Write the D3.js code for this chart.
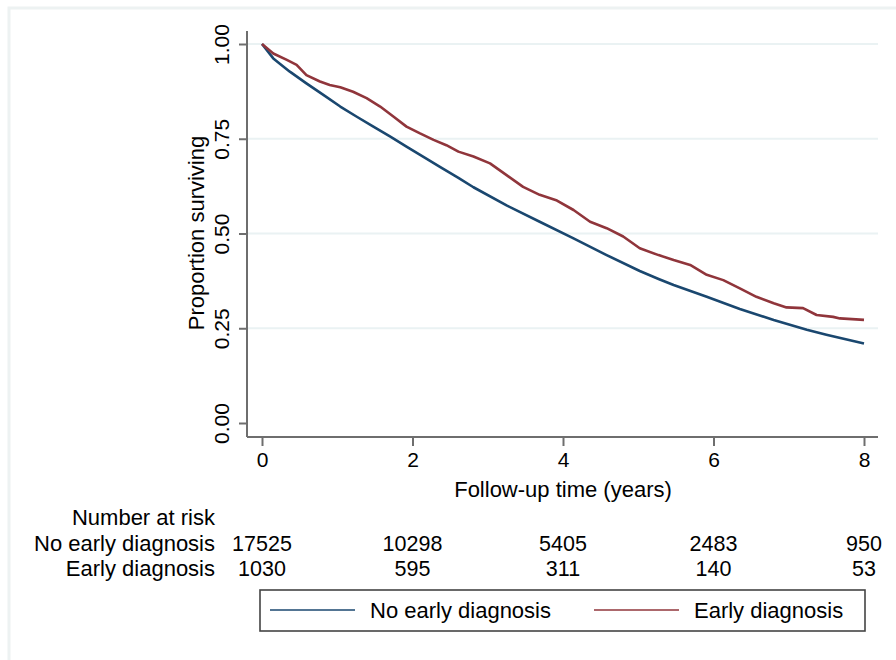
<!DOCTYPE html>
<html>
<head>
<meta charset="utf-8">
<script src="https://cdn.jsdelivr.net/npm/d3@7"></script>
<style>
  body { margin: 0; background: #fff; }
  svg { display: block; font-family: "Liberation Sans", Arial, sans-serif; }
</style>
</head>
<body>
<svg id="chart" width="896" height="660"></svg>
<script>
// Kaplan-Meier estimates
var timesNo = [0, 0.15, 0.37, 0.59, 0.82, 1.04, 1.26, 1.48, 1.70, 1.92, 2.14, 2.37, 2.61, 2.81, 3.25, 3.69, 4.14, 4.58, 5.02, 5.27, 5.47, 5.91, 6.35, 6.80, 7.24, 7.50, 8.0];
var survNo  = [1, 0.962, 0.927, 0.896, 0.865, 0.835, 0.808, 0.782, 0.756, 0.729, 0.703, 0.675, 0.647, 0.622, 0.574, 0.531, 0.487, 0.443, 0.401, 0.380, 0.364, 0.333, 0.301, 0.272, 0.246, 0.233, 0.210];

var timesEarly = [0, 0.15, 0.33, 0.46, 0.59, 0.77, 0.90, 1.04, 1.21, 1.39, 1.57, 1.75, 1.92, 2.10, 2.28, 2.45, 2.61, 2.81, 3.03, 3.25, 3.47, 3.69, 3.92, 4.14, 4.36, 4.58, 4.80, 5.02, 5.27, 5.47, 5.69, 5.91, 6.13, 6.35, 6.57, 6.80, 6.97, 7.19, 7.37, 7.59, 7.68, 8.0];
var survEarly  = [1, 0.975, 0.958, 0.945, 0.918, 0.901, 0.892, 0.886, 0.874, 0.857, 0.835, 0.808, 0.782, 0.764, 0.747, 0.733, 0.716, 0.703, 0.685, 0.654, 0.623, 0.602, 0.587, 0.562, 0.531, 0.514, 0.492, 0.461, 0.443, 0.430, 0.417, 0.391, 0.377, 0.355, 0.333, 0.316, 0.305, 0.303, 0.285, 0.280, 0.276, 0.272];

var xTicks = [0, 2, 4, 6, 8];
var yTicks = [0, 0.25, 0.5, 0.75, 1];
var groups = ["No early diagnosis", "Early diagnosis"];
var colors = ["#1a476f", "#90353b"];
var riskNo    = [17525, 10298, 5405, 2483, 950];
var riskEarly = [1030, 595, 311, 140, 53];

var svg = d3.select("#chart");

// faint outer frame
svg.append("rect")
  .attr("x", 9).attr("y", 8)
  .attr("width", 900).attr("height", 700)
  .attr("fill", "none")
  .attr("stroke", "#edf2f2")
  .attr("stroke-width", 3);

var x = d3.scaleLinear().domain([0, 8]).range([262, 864]);
var y = d3.scaleLinear().domain([0, 1]).range([423, 44]);
var axisX0 = 247, axisX1 = 878, axisY = 437;

// gridlines
svg.selectAll("line.grid")
  .data(yTicks.filter(function(d) { return d > 0; })).enter()
  .append("line")
  .attr("class", "grid")
  .attr("x1", axisX0).attr("x2", axisX1)
  .attr("y1", function(d) { return y(d); })
  .attr("y2", function(d) { return y(d); })
  .attr("stroke", "#eaf2f3")
  .attr("stroke-width", 2);

// y axis
var yAxis = svg.append("g")
  .attr("transform", "translate(" + axisX0 + ",0)")
  .call(d3.axisLeft(y).tickValues(yTicks).tickFormat(d3.format(".2f")).tickSize(8).tickPadding(6));
yAxis.select(".domain").attr("d", "M0,31V" + axisY);
yAxis.selectAll(".tick text")
  .attr("x", null)
  .attr("transform", "translate(-25,0) rotate(-90)")
  .attr("text-anchor", "middle")
  .attr("dy", "0.35em");

// x axis
var xAxis = svg.append("g")
  .attr("transform", "translate(0," + axisY + ")")
  .call(d3.axisBottom(x).tickValues(xTicks).tickFormat(d3.format("d")).tickSize(9).tickPadding(6));
xAxis.select(".domain").attr("d", "M" + axisX0 + ",0H" + axisX1);

svg.selectAll(".domain").attr("stroke", "#6e6e6e").attr("stroke-width", 2);
svg.selectAll(".tick line").attr("stroke", "#6e6e6e").attr("stroke-width", 2);
svg.selectAll(".tick text")
  .attr("fill", "#000")
  .style("font-size", "21px")
  .style("font-family", "Liberation Sans, Arial, sans-serif");

// axis titles
svg.append("text")
  .attr("transform", "translate(204,233) rotate(-90)")
  .attr("text-anchor", "middle")
  .style("font-size", "22px")
  .text("Proportion surviving");

svg.append("text")
  .attr("x", 563).attr("y", 497)
  .attr("text-anchor", "middle")
  .style("font-size", "22px")
  .text("Follow-up time (years)");

// curves
var line = d3.line()
  .x(function(d) { return x(d[0]); })
  .y(function(d) { return y(d[1]); });

svg.append("path")
  .datum(d3.zip(timesNo, survNo))
  .attr("d", line)
  .attr("fill", "none")
  .attr("stroke", colors[0])
  .attr("stroke-width", 2.6)
  .attr("stroke-linejoin", "round");

svg.append("path")
  .datum(d3.zip(timesEarly, survEarly))
  .attr("d", line)
  .attr("fill", "none")
  .attr("stroke", colors[1])
  .attr("stroke-width", 2.6)
  .attr("stroke-linejoin", "round");

// number at risk table
svg.append("text")
  .attr("x", 215).attr("y", 525)
  .attr("text-anchor", "end")
  .style("font-size", "22px")
  .text("Number at risk");

var rows = [riskNo, riskEarly];
rows.forEach(function(r, i) {
  var yy = 551 + i * 25;
  svg.append("text")
    .attr("x", 215).attr("y", yy)
    .attr("text-anchor", "end")
    .style("font-size", "22px")
    .text(groups[i]);
  svg.selectAll("text.risk" + i)
    .data(r).enter()
    .append("text")
    .attr("class", "risk" + i)
    .attr("x", function(d, j) { return x(xTicks[j]); })
    .attr("y", yy)
    .attr("text-anchor", "middle")
    .style("font-size", "21.5px")
    .text(function(d) { return d; });
});

// legend
var leg = svg.append("g");
leg.append("rect")
  .attr("x", 260).attr("y", 590)
  .attr("width", 605).attr("height", 41)
  .attr("fill", "#fff")
  .attr("stroke", "#444")
  .attr("stroke-width", 1.6);

var legX = [270, 594];
groups.forEach(function(g, i) {
  leg.append("line")
    .attr("x1", legX[i]).attr("x2", legX[i] + 85)
    .attr("y1", 610).attr("y2", 610)
    .attr("stroke", colors[i])
    .attr("stroke-width", 2)
    .attr("stroke-opacity", 0.75);
  leg.append("text")
    .attr("x", legX[i] + 100).attr("y", 618)
    .style("font-size", "22px")
    .text(g);
});
</script>
</body>
</html>
